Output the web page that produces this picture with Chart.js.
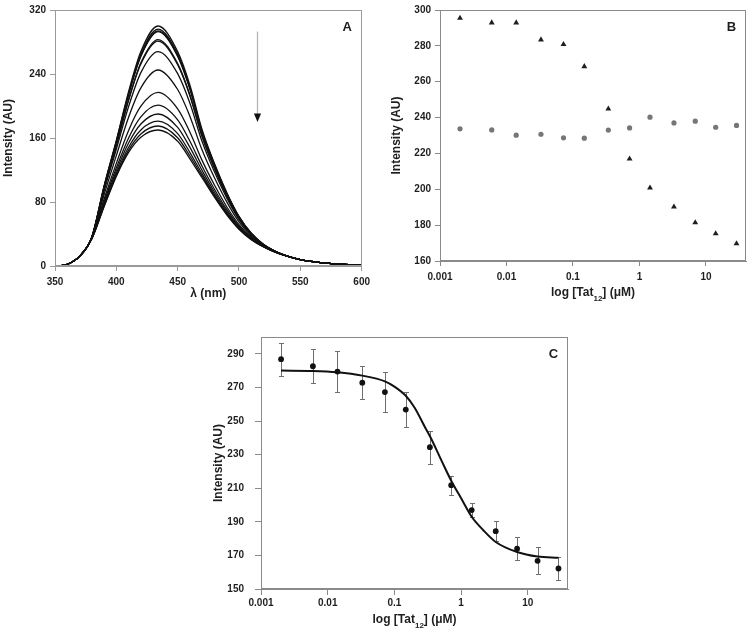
<!DOCTYPE html>
<html>
<head>
<meta charset="utf-8">
<title>Tat12 fluorescence titration</title>
<script src="https://cdn.jsdelivr.net/npm/chart.js@4/dist/chart.umd.min.js"></script>
<style>
  html, body { margin: 0; padding: 0; background: #fff; }
  #wrap { position: relative; width: 750px; height: 639px; overflow: hidden; }
  #wrap canvas { position: absolute; }
</style>
</head>
<body>
<div id="wrap">
  <canvas id="chartA" width="375" height="310" style="left:0;top:0"></canvas>
  <canvas id="chartB" width="375" height="310" style="left:375px;top:0"></canvas>
  <canvas id="chartC" width="390" height="319" style="left:190px;top:320px"></canvas>
</div>
<script>
// ── Data: panel A, emission spectra (one curve per titration step) ──
const wavelengthsA = [350, 355, 360, 370, 380, 390, 400, 410, 420, 434, 450, 460, 470, 480, 490, 500, 510, 520, 530, 540, 550, 565, 580, 600];
const spec01 = [0, 0.3, 2, 12, 36,   100,   157,   218,   268,   300, 268,   226,   170,   128,   92,   62,   41,   27,   18,   12, 8, 4.5, 2.5, 1];
const spec02 = [0, 0.3, 2, 12, 36,   99,    156,   216,   265,   296, 265,   223,   168,   127,   91,   61.5, 40.8, 26.9, 18,   12, 8, 4.5, 2.5, 1];
const spec03 = [0, 0.3, 2, 12, 36,   98.8,  155,   214.5, 263,   294, 263,   222,   167,   126,   90.7, 61.3, 40.6, 26.9, 18,   12, 8, 4.5, 2.5, 1];
const spec04 = [0, 0.3, 2, 12, 36,   98.6,  154.6, 214,   262,   293, 262,   221,   166.8, 125.7, 90.5, 61.1, 40.6, 26.8, 18,   12, 8, 4.5, 2.5, 1];
const spec05 = [0, 0.3, 2, 12, 35.7, 96.6,  151,   208,   254,   283, 253,   214,   162,   122.5, 88.3, 59.9, 40,   26.6, 17.9, 12, 8, 4.5, 2.5, 1];
const spec06 = [0, 0.3, 2, 12, 35.7, 96.2,  150.4, 207,   252.4, 281, 251.6, 212.6, 161.2, 121.9, 87.9, 59.7, 39.8, 26.6, 17.9, 12, 8, 4.5, 2.5, 1];
const spec07 = [0, 0.3, 2, 12, 35.5, 93.6,  146,   199.3, 241.7, 268, 240.4, 203.4, 155.2, 117.7, 85.1, 58.1, 39,   26.3, 17.8, 12, 8, 4.5, 2.5, 1];
const spec08 = [0, 0.3, 2, 12, 35.2, 89,    138,   186,   222.7, 245, 220.6, 187,   144.6, 110.2, 80.2, 55.2, 37.6, 25.7, 17.6, 12, 8, 4.5, 2.5, 1];
const spec09 = [0, 0.3, 2, 12, 34.7, 83.4,  128.3, 169.5, 199.7, 217, 196.5, 167.3, 131.7, 101.2, 74.1, 51.8, 35.9, 25.1, 17.4, 12, 8, 4.5, 2.5, 1];
const spec10 = [0, 0.3, 2, 12, 34.5, 80.2,  122.7, 160.1, 186.5, 201, 182.7, 155.9, 124.3, 96,    70.7, 49.8, 34.9, 24.7, 17.2, 12, 8, 4.5, 2.5, 1];
const spec11 = [0, 0.3, 2, 12, 34.3, 78,    118.9, 153.7, 177.5, 190, 173.2, 148.2, 119.2, 92.5,  68.3, 48.5, 34.2, 24.5, 17.2, 12, 8, 4.5, 2.5, 1];
const spec12 = [0, 0.3, 2, 12, 34.2, 76.2,  115.8, 148.5, 170.1, 181, 165.5, 141.8, 115.1, 89.6,  66.4, 47.4, 33.7, 24.3, 17.1, 12, 8, 4.5, 2.5, 1];
const spec13 = [0, 0.3, 2, 12, 34.1, 75,    113.7, 144.9, 165.1, 175, 160.3, 137.5, 112.3, 87.6,  65.1, 46.6, 33.3, 24.1, 17,   12, 8, 4.5, 2.5, 1];
const spec14 = [0, 0.3, 2, 12, 34,   74,    112,   142,   161,   170, 156,   134,   110,   86,    64,   46,   33,   24,   17,   12, 8, 4.5, 2.5, 1];
const spectraA = [spec01, spec02, spec03, spec04, spec05, spec06, spec07, spec08, spec09, spec10, spec11, spec12, spec13, spec14];
const ticksAx = [350, 400, 450, 500, 550, 600];
const ticksAy = [0, 80, 160, 240, 320];
const arrowA = [515, 293, 180]; // wavelength, from intensity, to intensity

// ── Data: panel B, peak intensity vs [Tat12] ──
const concTat = [0.002, 0.006, 0.014, 0.033, 0.072, 0.148, 0.34, 0.71, 1.44, 3.3, 6.9, 14, 28.8];
const triB    = [295.5, 292.9, 292.9, 283.4, 280.8, 268.5, 244.9, 217.0, 200.8, 190.2, 181.4, 175.3, 169.7];
const circB   = [233.7, 233.1, 230.2, 230.7, 228.7, 228.5, 233.0, 234.2, 240.2, 237.0, 238.0, 234.6, 235.6];
const ticksBy = [160, 180, 200, 220, 240, 260, 280, 300];
const ticksLog = [0.001, 0.01, 0.1, 1, 10];

// ── Data: panel C, mean ± error and fitted curve ──
const meanC = [286.8, 282.6, 279.4, 272.8, 267.2, 256.8, 234.4, 211.8, 197.0, 184.4, 174.0, 166.8, 162.2];
const errC  = [9.8, 10.2, 12.3, 9.8, 11.7, 10.4, 9.9, 5.7, 4.2, 6.0, 7.0, 8.0, 6.6];
const fitX  = [0.002, 0.006, 0.014, 0.033, 0.072, 0.1, 0.148, 0.2, 0.29, 0.35, 0.5, 0.72, 1.0, 1.44, 2.15, 3.3, 6.9, 14, 28.8];
const fitY  = [280, 279.8, 279, 277, 273.6, 270.5, 265, 258, 246, 240, 227, 214, 204, 193, 185, 178, 172, 169.3, 168.6];
const ticksCy = [150, 170, 190, 210, 230, 250, 270, 290];

// ── Shared styling ─────────────────────────────────────────
const FONT = '"Liberation Sans", Arial, Helvetica, sans-serif';
Chart.defaults.font.family = FONT;
Chart.defaults.font.size = 10;
Chart.defaults.font.weight = 'bold';
Chart.defaults.color = '#1e1e1e';
Chart.defaults.animation = false;

const xy = (xs, ys) => xs.map((x, i) => ({ x, y: ys[i] }));
const setTicks = list => scale => { scale.ticks = list.map(v => ({ value: v })); };

function axis(opts) {
  const { min, max, ticks, size, horizontal, color, tickLen, pad, title, type } = opts;
  return {
    type: type || 'linear',
    min, max,
    afterBuildTicks: setTicks(ticks),
    afterFit: s => { if (horizontal) s.height = size; else s.width = size; },
    grid: { display: true, drawOnChartArea: false, tickLength: tickLen, tickColor: color, color },
    border: { display: true, color, width: 1 },
    ticks: {
      padding: pad, autoSkip: false, maxRotation: 0, minRotation: 0,
      callback: v => String(v),
    },
    title: title || { display: false },
  };
}

const frame = {
  id: 'frame',
  afterDraw(chart, args, o) {
    const { ctx, chartArea: a } = chart;
    ctx.save();
    ctx.strokeStyle = o.color;
    ctx.lineWidth = 1;
    ctx.strokeRect(Math.round(a.left) + 0.5, Math.round(a.top) + 0.5, Math.round(a.width) - 1, Math.round(a.height) - 1);
    if (o.letter) {
      ctx.fillStyle = '#1e1e1e';
      ctx.font = 'bold 13px ' + FONT;
      ctx.textAlign = 'center';
      ctx.textBaseline = 'middle';
      ctx.fillText(o.letter, a.right - 14.5, a.top + 17);
    }
    ctx.restore();
  },
};

// x title with subscript: log [Tat12] (µM)
const tatTitle = {
  id: 'tatTitle',
  afterDraw(chart, args, o) {
    if (!o.show) return;
    const { ctx, chartArea: a } = chart;
    const big = 'bold 12px ' + FONT, small = 'bold 8px ' + FONT;
    const parts = [['log [Tat', big, 0], ['12', small, 6], ['] (\u03bcM)', big, 0]];
    ctx.save();
    ctx.fillStyle = '#1e1e1e';
    ctx.textBaseline = 'middle';
    ctx.textAlign = 'left';
    const widths = parts.map(p => { ctx.font = p[1]; return ctx.measureText(p[0]).width; });
    let x = (a.left + a.right) / 2 - widths.reduce((s, w) => s + w, 0) / 2;
    const y = a.bottom + o.offset;
    parts.forEach((p, i) => { ctx.font = p[1]; ctx.fillText(p[0], x, y + p[2]); x += widths[i]; });
    ctx.restore();
  },
};

// ── Panel A ───────────────────────────────────────────────
const GREY_A = '#9a9a9a';
const arrowPlugin = {
  id: 'arrowA',
  afterDatasetsDraw(chart) {
    const { ctx, scales: { x, y } } = chart;
    const px = Math.round(x.getPixelForValue(arrowA[0])) + 0.5;
    const y0 = y.getPixelForValue(arrowA[1]);
    const y1 = y.getPixelForValue(arrowA[2]);
    ctx.save();
    ctx.strokeStyle = '#b4b4b4';
    ctx.lineWidth = 1.3;
    ctx.beginPath(); ctx.moveTo(px, y0); ctx.lineTo(px, y1 - 7); ctx.stroke();
    ctx.fillStyle = '#111';
    ctx.beginPath();
    ctx.moveTo(px - 3.6, y1 - 8.5); ctx.lineTo(px + 3.6, y1 - 8.5); ctx.lineTo(px, y1);
    ctx.closePath(); ctx.fill();
    ctx.restore();
  },
};

new Chart(document.getElementById('chartA'), {
  type: 'scatter',
  data: {
    datasets: spectraA.map(s => ({
      data: xy(wavelengthsA, s),
      showLine: true,
      borderColor: '#111',
      borderWidth: 1.3,
      pointRadius: 0,
      cubicInterpolationMode: 'monotone',
      fill: false,
    })),
  },
  options: {
    responsive: false,
    layout: { padding: { left: 0, right: 8, top: 10, bottom: 0 }, autoPadding: false },
    scales: {
      x: axis({ min: 350, max: 600, ticks: ticksAx, size: 44, horizontal: true, color: GREY_A, tickLen: 5, pad: 5,
        title: { display: true, text: '\u03bb (nm)', font: { size: 12, weight: 'bold' }, color: '#1e1e1e', padding: { top: 0, bottom: 9 } } }),
      y: axis({ min: 0, max: 320, ticks: ticksAy, size: 55, color: GREY_A, tickLen: 5, pad: 4,
        title: { display: true, text: 'Intensity (AU)', font: { size: 12, weight: 'bold' }, color: '#1e1e1e', padding: { top: 1, bottom: 0 } } }),
    },
    plugins: {
      legend: { display: false },
      tooltip: { enabled: false },
      frame: { color: GREY_A, letter: 'A' },
      tatTitle: { show: false },
    },
  },
  plugins: [frame, arrowPlugin, tatTitle],
});

// ── Panel B ───────────────────────────────────────────────
const GREY_B = '#8a8a8a';
new Chart(document.getElementById('chartB'), {
  type: 'scatter',
  data: {
    datasets: [
      { data: xy(concTat, circB), pointStyle: 'circle', pointRadius: 2.6, backgroundColor: '#767676', borderColor: '#767676', borderWidth: 0 },
      { data: xy(concTat, triB), pointStyle: 'triangle', pointRadius: 3.4, backgroundColor: '#1e1e1e', borderColor: '#1e1e1e', borderWidth: 0 },
    ],
  },
  options: {
    responsive: false,
    layout: { padding: { left: 14, right: 4, top: 10, bottom: 0 }, autoPadding: false },
    scales: {
      x: axis({ type: 'logarithmic', min: 0.001, max: 40, ticks: ticksLog, size: 49, horizontal: true, color: GREY_B, tickLen: 5, pad: 5 }),
      y: axis({ min: 160, max: 300, ticks: ticksBy, size: 51, color: GREY_B, tickLen: 5, pad: 4,
        title: { display: true, text: 'Intensity (AU)', font: { size: 12, weight: 'bold' }, color: '#1e1e1e', padding: { top: 0, bottom: 0 } } }),
    },
    plugins: {
      legend: { display: false },
      tooltip: { enabled: false },
      frame: { color: GREY_B, letter: 'B' },
      tatTitle: { show: true, offset: 32 },
    },
  },
  plugins: [frame, tatTitle],
});

// ── Panel C ───────────────────────────────────────────────
const GREY_C = '#8a8a8a';
const errorBars = {
  id: 'errorBars',
  beforeDatasetsDraw(chart) {
    const { ctx, scales: { x, y } } = chart;
    ctx.save();
    ctx.strokeStyle = '#6e6e6e';
    ctx.lineWidth = 1;
    concTat.forEach((c, i) => {
      const px = Math.round(x.getPixelForValue(c)) + 0.5;
      const top = Math.round(y.getPixelForValue(meanC[i] + errC[i])) + 0.5;
      const bot = Math.round(y.getPixelForValue(meanC[i] - errC[i])) + 0.5;
      ctx.beginPath();
      ctx.moveTo(px, top); ctx.lineTo(px, bot);
      ctx.moveTo(px - 2.5, top); ctx.lineTo(px + 2.5, top);
      ctx.moveTo(px - 2.5, bot); ctx.lineTo(px + 2.5, bot);
      ctx.stroke();
    });
    ctx.restore();
  },
};

new Chart(document.getElementById('chartC'), {
  type: 'scatter',
  data: {
    datasets: [
      { data: xy(fitX, fitY), showLine: true, borderColor: '#111', borderWidth: 2, pointRadius: 0, cubicInterpolationMode: 'monotone', fill: false },
      { data: xy(concTat, meanC), pointStyle: 'circle', pointRadius: 2.9, backgroundColor: '#111', borderColor: '#111', borderWidth: 0 },
    ],
  },
  options: {
    responsive: false,
    layout: { padding: { left: 21, right: 12, top: 16, bottom: 0 }, autoPadding: false },
    scales: {
      x: axis({ type: 'logarithmic', min: 0.001, max: 40, ticks: ticksLog, size: 50, horizontal: true, color: GREY_C, tickLen: 6, pad: 2 }),
      y: axis({ min: 150, max: 300, ticks: ticksCy, size: 50, color: GREY_C, tickLen: 6, pad: 11,
        title: { display: true, text: 'Intensity (AU)', font: { size: 12, weight: 'bold' }, color: '#1e1e1e', padding: { top: 0, bottom: 0 } } }),
    },
    plugins: {
      legend: { display: false },
      tooltip: { enabled: false },
      frame: { color: GREY_C, letter: 'C' },
      tatTitle: { show: true, offset: 31 },
    },
  },
  plugins: [frame, errorBars, tatTitle],
});
</script>
</body>
</html>
